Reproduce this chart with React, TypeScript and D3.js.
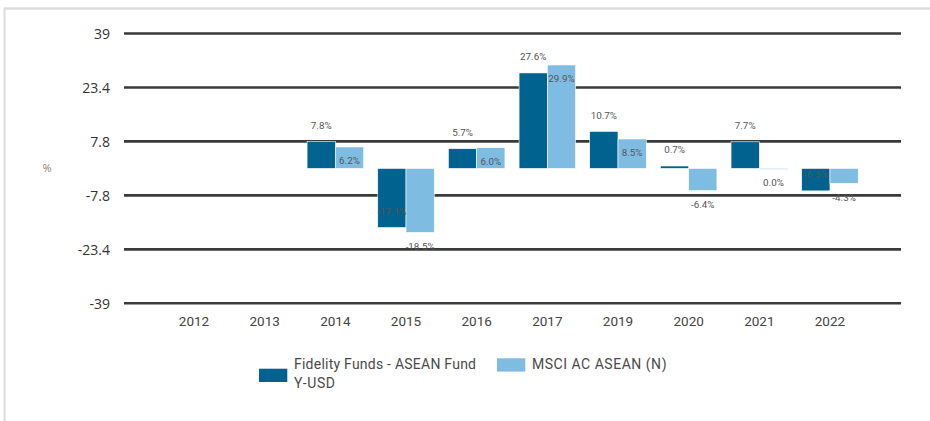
import React from "react";
import * as d3 from "d3";

const categories = ["2012", "2013", "2014", "2015", "2016", "2017", "2019", "2020", "2021", "2022"];
const seriesNames = ["Fidelity Funds - ASEAN Fund Y-USD", "MSCI AC ASEAN (N)"];
const fundValues: (number | null)[] = [null, null, 7.8, -17.1, 5.7, 27.6, 10.7, 0.7, 7.7, -6.5];
const indexValues: (number | null)[] = [null, null, 6.2, -18.5, 6.0, 29.9, 8.5, -6.4, 0.0, -4.3];
const yTicks = [39, 23.4, 7.8, -7.8, -23.4, -39];
const colors = ["#00628F", "#7FBCE2"];

const W = 930;
const H = 421;

export default function App() {
  const y = d3.scaleLinear().domain([-39, 39]).range([303.3, 33.5]);
  const x0 = d3.scaleBand<string>().domain(categories).range([158.7, 865.3]).paddingInner(0.2).paddingOuter(0.1);
  const x1 = d3.scaleBand<number>().domain([0, 1]).range([0, x0.bandwidth()]);
  const seriesData = [fundValues, indexValues];
  const labelFont = "Roboto, 'DejaVu Sans', sans-serif";

  return (
    <div style={{ position: "absolute", left: 0, top: 0, width: W, height: H, background: "#fff" }}>
      <svg width={W} height={H} style={{ display: "block" }}>
        {/* frame */}
        <line x1={4} x2={W} y1={8.5} y2={8.5} stroke="#dcdcdc" strokeWidth={2.5} />
        <line x1={4.5} x2={4.5} y1={8} y2={H} stroke="#dcdcdc" strokeWidth={2} />

        {/* grid + y labels */}
        {yTicks.map((t) => (
          <g key={t}>
            <line x1={124} x2={901} y1={y(t)} y2={y(t)} stroke="#3a3a3a" strokeWidth={2.6} />
            <text
              x={110}
              y={y(t)}
              textAnchor="end"
              dominantBaseline="central"
              fontFamily="'Open Sans', sans-serif"
              fontSize={14}
              fill="#333"
            >
              {String(t)}
            </text>
          </g>
        ))}
        <text x={47} y={167} textAnchor="middle" dominantBaseline="central" fontFamily="'Open Sans', sans-serif" fontSize={11} fill="#8a7f7a">
          %
        </text>

        {/* bars */}
        {seriesData.map((vals, si) =>
          vals.map((v, i) => {
            if (v === null) return null;
            const bx = (x0(categories[i]) as number) + (x1(si) as number);
            const bw = x1.bandwidth();
            const y0 = y(0);
            const yv = y(v);
            const top = Math.min(y0, yv);
            const h = Math.max(1, Math.abs(yv - y0));
            return (
              <rect key={`b${si}-${i}`} x={bx} y={top} width={bw} height={h} fill={colors[si]} stroke="#fff" strokeWidth={0.6} />
            );
          })
        )}

        {/* data labels */}
        {seriesData.map((vals, si) =>
          vals.map((v, i) => {
            if (v === null) return null;
            const cx = (x0(categories[i]) as number) + (x1(si) as number) + x1.bandwidth() / 2;
            const ly = si === 0 ? y(v) - 16 : y(v) + 14;
            return (
              <text
                key={`l${si}-${i}`}
                x={cx}
                y={ly}
                textAnchor="middle"
                dominantBaseline="central"
                fontFamily={labelFont}
                fontSize={9.8}
                fill="#555"
              >
                {v.toFixed(1) + "%"}
              </text>
            );
          })
        )}

        {/* x labels */}
        {categories.map((c) => (
          <text
            key={c}
            x={(x0(c) as number) + x0.bandwidth() / 2}
            y={321}
            textAnchor="middle"
            dominantBaseline="central"
            fontFamily={labelFont}
            fontSize={13.5}
            fill="#444"
          >
            {c}
          </text>
        ))}

        {/* legend */}
        <rect x={259} y={368.7} width={28.3} height={13.3} fill={colors[0]} />
        <text fontFamily={labelFont} fontSize={14} fill="#4a4a4a">
          <tspan x={294} y={369} textLength={182} lengthAdjust="spacing">Fidelity Funds - ASEAN Fund</tspan>
          <tspan x={294} y={388} textLength={41} lengthAdjust="spacing">Y-USD</tspan>
        </text>
        <rect x={497} y={358.3} width={28.3} height={13.3} fill={colors[1]} />
        <text x={532} y={369.3} fontFamily={labelFont} fontSize={14} fill="#4a4a4a" textLength={134.5} lengthAdjust="spacing">
          {seriesNames[1]}
        </text>
      </svg>
    </div>
  );
}
